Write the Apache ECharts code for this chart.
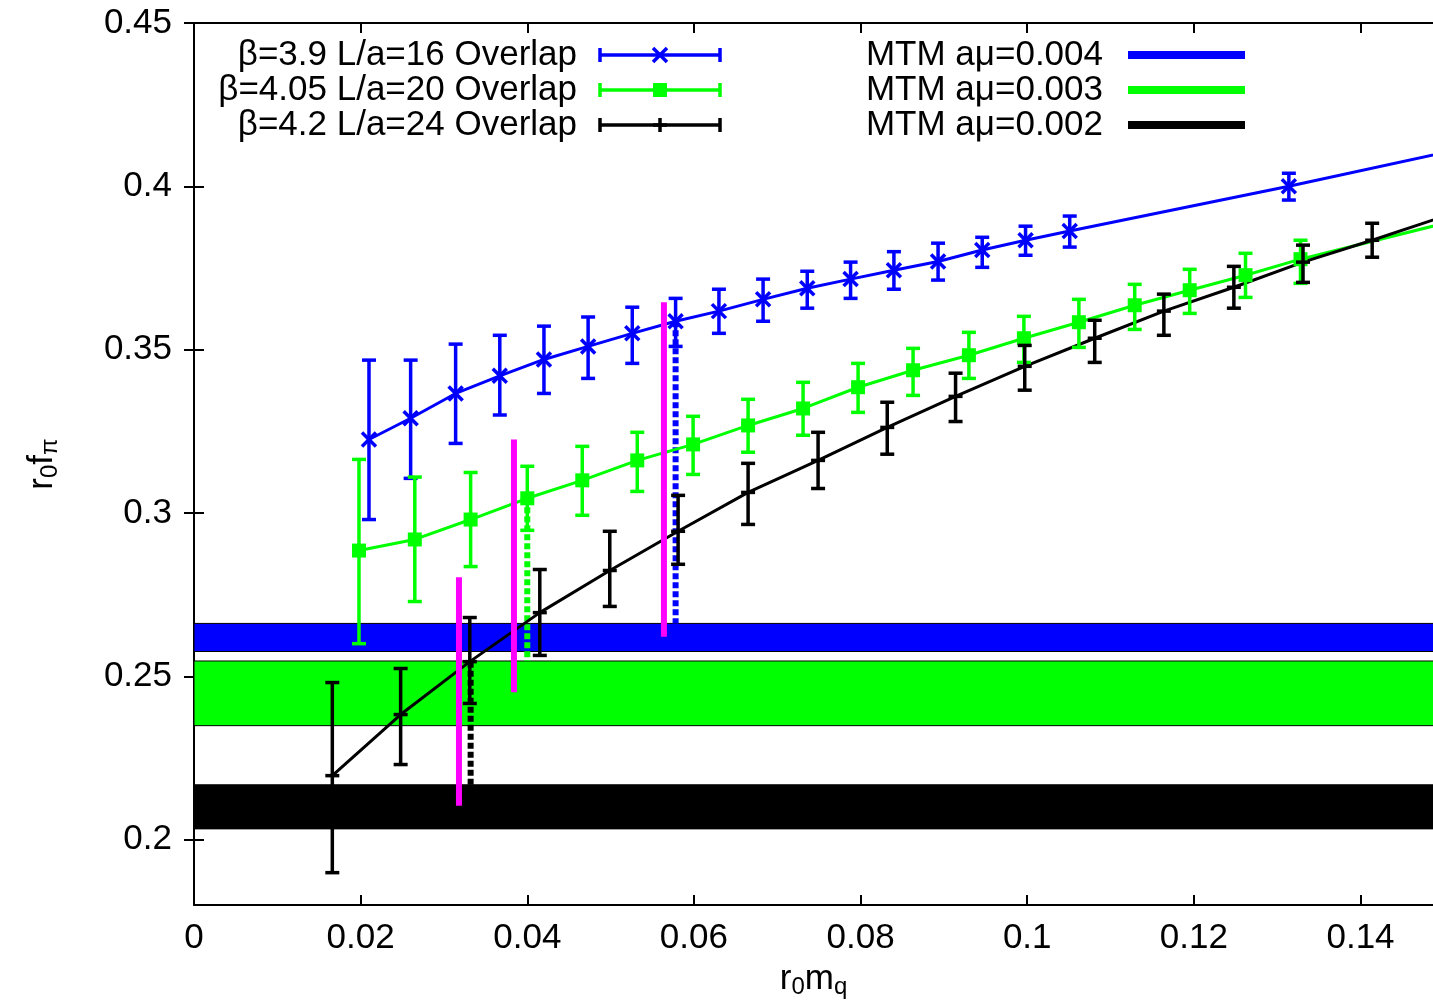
<!DOCTYPE html>
<html>
<head>
<meta charset="utf-8">
<title>r0 f_pi vs r0 m_q</title>
<script src="https://cdn.jsdelivr.net/npm/echarts@6/dist/echarts.min.js"></script>
<style>
  html, body { margin: 0; padding: 0; background: #fff; }
  #chart { width: 1433px; height: 1007px; }
</style>
</head>
<body>
<div id="chart"></div>
<script>
// axis ranges and ticks
const xMin = 0, xMax = 0.1487, yMin = 0.18, yMax = 0.45;
const xTicks = [0, 0.02, 0.04, 0.06, 0.08, 0.1, 0.12, 0.14];
const yTicks = [0.2, 0.25, 0.3, 0.35, 0.4, 0.45];

// beta=3.9 L/a=16 overlap
const b39X  = [0.0210, 0.0260, 0.0314, 0.0367, 0.0420, 0.0473, 0.0526, 0.0578, 0.0630, 0.0683, 0.0736, 0.0788, 0.0840, 0.0893, 0.0946, 0.0998, 0.1051, 0.1314, 0.1600];
const b39Y  = [0.3225, 0.3290, 0.3366, 0.3420, 0.3470, 0.3510, 0.3550, 0.3587, 0.3618, 0.3654, 0.3688, 0.3716, 0.3743, 0.3770, 0.3805, 0.3835, 0.3863, 0.4000, 0.4159];
const b39Lo = [0.2980, 0.3106, 0.3213, 0.3300, 0.3366, 0.3412, 0.3458, 0.3510, 0.3550, 0.3587, 0.3627, 0.3657, 0.3685, 0.3713, 0.3752, 0.3789, 0.3814, 0.3958, 0.4110];
const b39Hi = [0.3468, 0.3468, 0.3517, 0.3544, 0.3572, 0.3600, 0.3630, 0.3657, 0.3685, 0.3716, 0.3740, 0.3768, 0.3800, 0.3826, 0.3844, 0.3878, 0.3909, 0.4040, 0.4200];

// beta=4.05 L/a=20 overlap
const b405X  = [0.0198, 0.0265, 0.0332, 0.0400, 0.0466, 0.0532, 0.0599, 0.0665, 0.0731, 0.0797, 0.0863, 0.0930, 0.0996, 0.1062, 0.1129, 0.1195, 0.1262, 0.1328, 0.1600];
const b405Y  = [0.2885, 0.2919, 0.2980, 0.3045, 0.3100, 0.3161, 0.3210, 0.3268, 0.3320, 0.3385, 0.3437, 0.3483, 0.3535, 0.3584, 0.3636, 0.3682, 0.3728, 0.3777, 0.3950];
const b405Lo = [0.2600, 0.2729, 0.2836, 0.2947, 0.2993, 0.3066, 0.3118, 0.3186, 0.3238, 0.3308, 0.3360, 0.3412, 0.3461, 0.3507, 0.3562, 0.3611, 0.3660, 0.3703, 0.3880];
const b405Hi = [0.3164, 0.3110, 0.3124, 0.3143, 0.3204, 0.3247, 0.3296, 0.3348, 0.3400, 0.3458, 0.3504, 0.3553, 0.3602, 0.3654, 0.3700, 0.3746, 0.3795, 0.3835, 0.4020];

// beta=4.2 L/a=24 overlap
const b42X  = [0.0166, 0.0248, 0.0331, 0.0415, 0.0499, 0.0581, 0.0665, 0.0749, 0.0832, 0.0914, 0.0997, 0.1081, 0.1164, 0.1248, 0.1331, 0.1414, 0.1600];
const b42Y  = [0.2196, 0.2383, 0.2545, 0.2695, 0.2824, 0.2944, 0.3063, 0.3161, 0.3262, 0.3357, 0.3449, 0.3535, 0.3618, 0.3691, 0.3768, 0.3835, 0.3993];
const b42Lo = [0.1899, 0.2230, 0.2417, 0.2564, 0.2714, 0.2843, 0.2965, 0.3075, 0.3180, 0.3280, 0.3376, 0.3461, 0.3544, 0.3627, 0.3706, 0.3783, 0.3940];
const b42Hi = [0.2481, 0.2524, 0.2680, 0.2827, 0.2944, 0.3054, 0.3152, 0.3247, 0.3339, 0.3428, 0.3513, 0.3590, 0.3670, 0.3755, 0.3820, 0.3887, 0.4050];

// MTM bands (a mu = 0.004, 0.003, 0.002)
const bandLo = [0.2576, 0.2349, 0.2033];
const bandHi = [0.2662, 0.2547, 0.2168];

// magenta vertical bars
const magX  = [0.0318, 0.0384, 0.0564];
const magLo = [0.2104, 0.2451, 0.2621];
const magHi = [0.2803, 0.3225, 0.3645];

// dotted drop lines (blue, green, black)
const dropX   = [0.0578, 0.0400, 0.0332];
const dropTop = [0.3587, 0.3045, 0.2545];
const dropBot = [0.2662, 0.2547, 0.2168];

const overlapNames = ['β=3.9 L/a=16 Overlap', 'β=4.05 L/a=20 Overlap', 'β=4.2 L/a=24 Overlap'];
const mtmNames = ['MTM aμ=0.004', 'MTM aμ=0.003', 'MTM aμ=0.002'];

const BLUE = '#0000ff', GREEN = '#00ff00', BLACK = '#000000', MAGENTA = '#ff00ff';
const colors = [BLUE, GREEN, BLACK];
const markers = ['cross', 'square', 'plus'];
const FONT = "'Liberation Sans', Arial, Helvetica, sans-serif";
const FS = 35;
const LW = 3.5;

function markerShapes(kind, cx, cy, color) {
  const s = 7;
  if (kind === 'cross') {
    return [
      { type: 'line', shape: { x1: cx - s, y1: cy - s, x2: cx + s, y2: cy + s }, style: { stroke: color, lineWidth: LW } },
      { type: 'line', shape: { x1: cx - s, y1: cy + s, x2: cx + s, y2: cy - s }, style: { stroke: color, lineWidth: LW } }
    ];
  }
  if (kind === 'square') {
    return [{ type: 'rect', shape: { x: cx - 7, y: cy - 7, width: 14, height: 14 }, style: { fill: color } }];
  }
  return [{ type: 'line', shape: { x1: cx - 7, y1: cy, x2: cx + 7, y2: cy }, style: { stroke: color, lineWidth: LW } }];
}

function lineSeries(xs, ys, color) {
  return {
    type: 'line', z: 3, symbol: 'none', clip: true, silent: true,
    data: xs.map((x, i) => [x, ys[i]]),
    lineStyle: { color: color, width: 3 }
  };
}

function errSeries(xs, ys, lo, hi, color, kind) {
  return {
    type: 'custom', z: 4, clip: true, silent: true,
    data: xs.map((x, i) => [x, ys[i], lo[i], hi[i]]),
    encode: { x: 0, y: [1, 2, 3] },
    renderItem: (params, api) => {
      const c = api.coord([api.value(0), api.value(1)]);
      const t = api.coord([api.value(0), api.value(3)]);
      const b = api.coord([api.value(0), api.value(2)]);
      const w = 7;
      return {
        type: 'group',
        children: [
          { type: 'line', shape: { x1: t[0], y1: t[1], x2: b[0], y2: b[1] }, style: { stroke: color, lineWidth: LW } },
          { type: 'line', shape: { x1: t[0] - w, y1: t[1], x2: t[0] + w, y2: t[1] }, style: { stroke: color, lineWidth: LW } },
          { type: 'line', shape: { x1: b[0] - w, y1: b[1], x2: b[0] + w, y2: b[1] }, style: { stroke: color, lineWidth: LW } }
        ].concat(markerShapes(kind, c[0], c[1], color))
      };
    }
  };
}

// vertical segments drawn through the axes
function segSeries(xs, lo, hi, colorOf, width, dash, z) {
  return {
    type: 'custom', z: z, clip: true, silent: true,
    data: xs.map((x, i) => [x, lo[i], hi[i], i]),
    encode: { x: 0, y: [1, 2] },
    renderItem: (params, api) => {
      const t = api.coord([api.value(0), api.value(2)]);
      const b = api.coord([api.value(0), api.value(1)]);
      return {
        type: 'line',
        shape: { x1: t[0], y1: t[1], x2: b[0], y2: b[1] },
        style: { stroke: colorOf(api.value(3)), lineWidth: width, lineDash: dash }
      };
    }
  };
}

const bandSeries = {
  type: 'custom', z: 1, clip: true, silent: true,
  data: bandLo.map((lo, i) => [xMin, lo, bandHi[i], i]),
  encode: { x: 0, y: [1, 2] },
  renderItem: (params, api) => {
    const cs = params.coordSys;
    const top = api.coord([xMin, api.value(2)])[1];
    const bot = api.coord([xMin, api.value(1)])[1];
    return {
      type: 'rect',
      shape: { x: cs.x, y: top, width: cs.width + 4, height: bot - top },
      style: { fill: colors[api.value(3)], stroke: '#000', lineWidth: 1 }
    };
  }
};

// legend drawn by hand, samples look like the gnuplot key
const legendRows = [55, 90, 125];
const graphics = [];
overlapNames.forEach((name, i) => {
  const y = legendRows[i], c = colors[i];
  graphics.push({ type: 'text', x: 577, y: y, style: { text: name, align: 'right', verticalAlign: 'middle', fontSize: FS, fontFamily: FONT, fill: '#000' } });
  graphics.push({ type: 'line', shape: { x1: 600, y1: y, x2: 720, y2: y }, style: { stroke: c, lineWidth: LW } });
  graphics.push({ type: 'line', shape: { x1: 600, y1: y - 7, x2: 600, y2: y + 7 }, style: { stroke: c, lineWidth: LW } });
  graphics.push({ type: 'line', shape: { x1: 720, y1: y - 7, x2: 720, y2: y + 7 }, style: { stroke: c, lineWidth: LW } });
  markerShapes(markers[i], 660, y, c).forEach(m => graphics.push(m));
  if (markers[i] === 'plus') {
    graphics.push({ type: 'line', shape: { x1: 660, y1: y - 7, x2: 660, y2: y + 7 }, style: { stroke: c, lineWidth: LW } });
  }
});
mtmNames.forEach((name, i) => {
  const y = legendRows[i];
  graphics.push({ type: 'text', x: 1103, y: y, style: { text: name, align: 'right', verticalAlign: 'middle', fontSize: FS, fontFamily: FONT, fill: '#000' } });
  graphics.push({ type: 'line', shape: { x1: 1128, y1: y, x2: 1245, y2: y }, style: { stroke: colors[i], lineWidth: 8 } });
});

const nameRich = {
  a: { fontSize: FS, fontFamily: FONT, color: '#000', lineHeight: 40 },
  s: { fontSize: 24, fontFamily: FONT, color: '#000', lineHeight: 14, verticalAlign: 'bottom' }
};

const axisCommon = {
  type: 'value',
  axisLine: { onZero: false, lineStyle: { color: '#000', width: 2 } },
  splitLine: { show: false }
};

const chart = echarts.init(document.getElementById('chart'));
chart.setOption({
  animation: false,
  backgroundColor: '#fff',
  grid: { left: 194, right: 0, top: 23, bottom: 102 },
  xAxis: [
    Object.assign({}, axisCommon, {
      position: 'bottom', min: xMin, max: xMax,
      axisTick: { inside: true, length: 10, customValues: xTicks, lineStyle: { color: '#000', width: 2 } },
      axisLabel: { customValues: xTicks, fontSize: FS, fontFamily: FONT, color: '#000', margin: 16 },
      name: '{a|r}{s|0}{a|m}{s|q}', nameLocation: 'middle', nameGap: 54,
      nameTextStyle: { rich: nameRich }
    }),
    Object.assign({}, axisCommon, {
      position: 'top', min: xMin, max: xMax,
      axisTick: { inside: true, length: 10, customValues: xTicks, lineStyle: { color: '#000', width: 2 } },
      axisLabel: { show: false }
    })
  ],
  yAxis: [
    Object.assign({}, axisCommon, {
      position: 'left', min: yMin, max: yMax,
      axisTick: { inside: true, length: 10, customValues: yTicks, lineStyle: { color: '#000', width: 2 } },
      axisLabel: { customValues: yTicks, fontSize: FS, fontFamily: FONT, color: '#000', margin: 22 },
      name: '{a|r}{s|0}{a|f}{s|π}', nameLocation: 'middle', nameGap: 132, nameRotate: 90,
      nameTextStyle: { rich: nameRich }
    }),
    Object.assign({}, axisCommon, {
      position: 'right', min: yMin, max: yMax,
      axisLine: { show: false },
      axisTick: { inside: true, length: 10, customValues: yTicks, lineStyle: { color: '#000', width: 2 } },
      axisLabel: { show: false }
    })
  ],
  graphic: graphics,
  series: [
    bandSeries,
    segSeries(dropX, dropBot, dropTop, i => colors[i], 6, [6, 3], 2),
    lineSeries(b39X, b39Y, BLUE),
    lineSeries(b405X, b405Y, GREEN),
    lineSeries(b42X, b42Y, BLACK),
    errSeries(b39X, b39Y, b39Lo, b39Hi, BLUE, 'cross'),
    errSeries(b405X, b405Y, b405Lo, b405Hi, GREEN, 'square'),
    errSeries(b42X, b42Y, b42Lo, b42Hi, BLACK, 'plus'),
    segSeries(magX, magLo, magHi, () => MAGENTA, 6, null, 5)
  ]
});
</script>
</body>
</html>
